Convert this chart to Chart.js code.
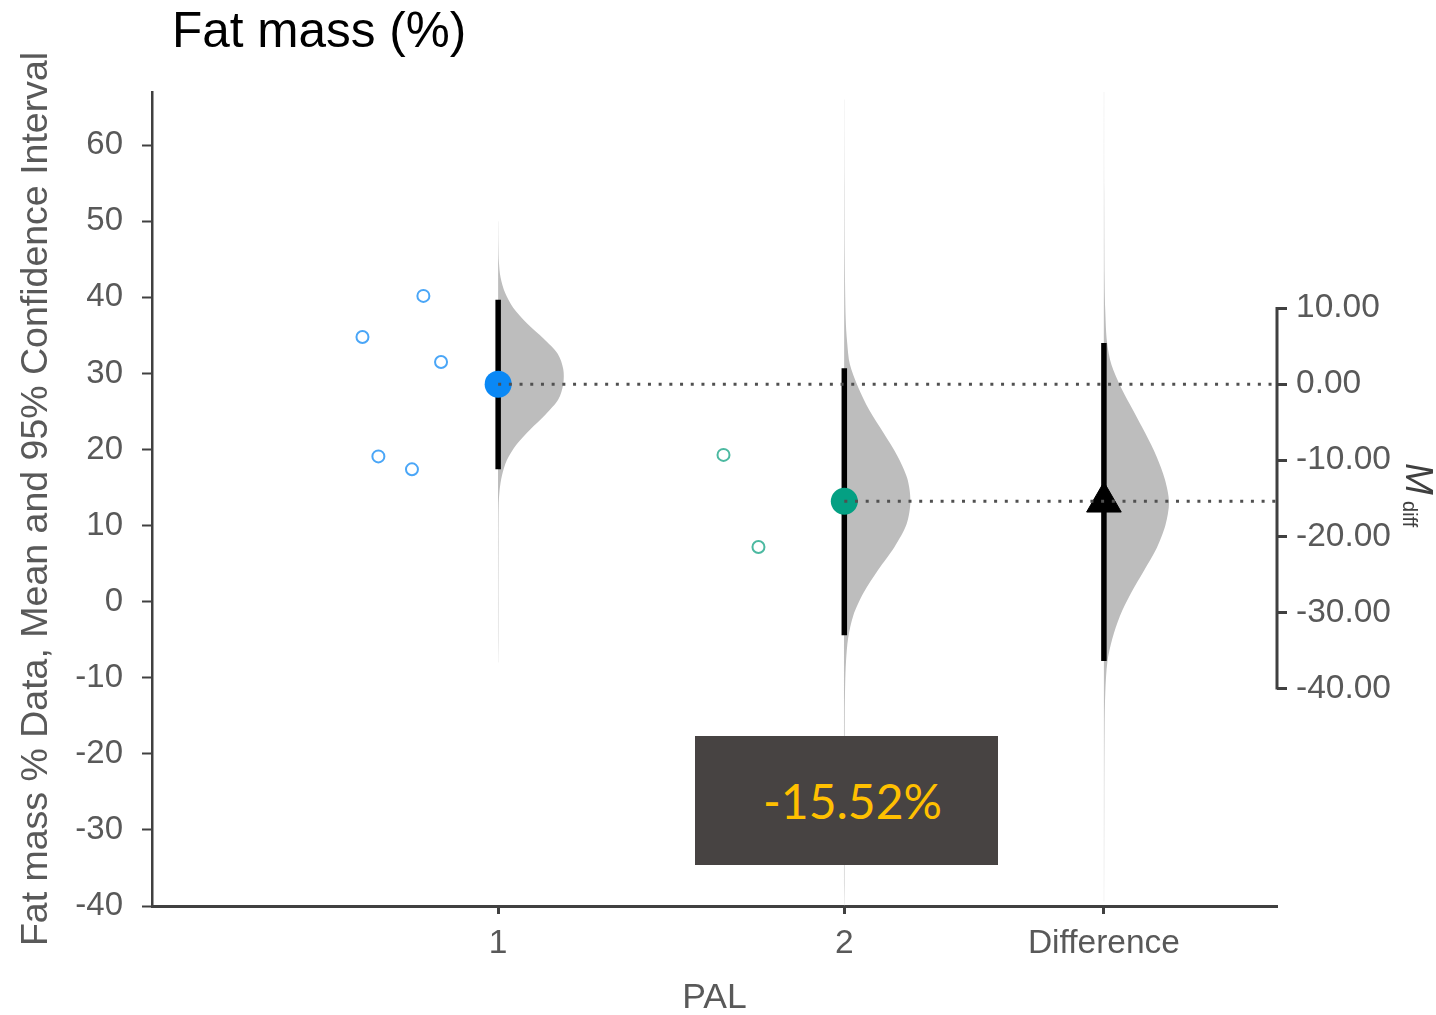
<!DOCTYPE html>
<html><head><meta charset="utf-8">
<script src="https://cdn.jsdelivr.net/npm/chart.js@4.4.1/dist/chart.umd.min.js"></script>
<style>
html,body{margin:0;padding:0;background:#fff;}
#wrap{position:relative;width:1436px;height:1015px;overflow:hidden;background:#fff;}
#c{position:absolute;left:0;top:0;}
#title{position:absolute;left:172px;top:5px;font-family:'Liberation Sans',Arial,sans-serif;font-size:49.5px;line-height:50px;color:#000;white-space:nowrap;}
#note{position:absolute;left:695px;top:736px;width:303px;height:129px;background:#474342;display:flex;align-items:center;justify-content:center;}
#note span{font-family:Lato,'Open Sans',sans-serif;font-size:48px;color:#ffc000;padding-left:12px;}
</style></head><body>
<div id="wrap"><canvas id="c" width="1436" height="1015"></canvas>
<div id="title">Fat mass (%)</div>
<div id="note"><span>-15.52%</span></div>
</div>
<script>
// ---- data ----
const categories = ['1', '2', 'Difference'];
const categoryPos = [1, 2, 2.75];
const xMin = 0, xMax = 3.25;
const yMin = -40, yMax = 67;
const leftTicks = [-40, -30, -20, -10, 0, 10, 20, 30, 40, 50, 60];
const rightTicks = [10, 0, -10, -20, -30, -40];

const group1X = [0.608, 0.784, 0.835, 0.654, 0.751];
const group1Y = [34.8, 40.2, 31.5, 19.1, 17.4];
const group2X = [1.651, 1.752];
const group2Y = [19.3, 7.2];

const groupMeans = [28.6, 13.2];
const groupCILow = [17.4, -4.4];
const groupCIHigh = [39.7, 30.7];
const diffMean = -15.5;
const diffCI = [-36.4, 5.4];

// half-violin outlines: value positions and half-widths (x units)
const violin1Y = [50, 46.6, 44.6, 42.6, 40.6, 38.6, 36.6, 34.6, 32.6, 30.6, 28.6, 26.6, 24.6, 22.6, 20.6, 18.6, 16.6, 14.6, 12.6, 8, 0, -8];
const violin1W = [0.0004, 0.001, 0.0023, 0.007, 0.020, 0.044, 0.083, 0.131, 0.172, 0.188, 0.188, 0.174, 0.137, 0.092, 0.052, 0.025, 0.011, 0.004, 0.0015, 0.001, 0.0007, 0.0004];
const violin2Y = [66, 55, 45, 37.2, 34.2, 31.2, 28.2, 25.2, 22.2, 19.2, 16.2, 13.2, 10.2, 7.2, 4.2, 1.2, -1.8, -4.8, -7.8, -10.8, -15, -25, -40];
const violin2W = [0.0004, 0.0008, 0.0015, 0.004, 0.008, 0.016, 0.040, 0.072, 0.113, 0.153, 0.182, 0.191, 0.180, 0.145, 0.098, 0.056, 0.026, 0.011, 0.005, 0.0025, 0.0012, 0.0008, 0.0005];
const violinDY = [40, 25, 13.5, 9.5, 5.5, 2.5, -0.5, -3.5, -6.5, -9.5, -12.5, -15.5, -18.5, -21.5, -24.5, -27.5, -30.5, -33.5, -36.5, -40.5, -45, -55, -68];
const violinDW = [0.0004, 0.0008, 0.002, 0.004, 0.009, 0.022, 0.050, 0.085, 0.120, 0.152, 0.176, 0.188, 0.178, 0.153, 0.116, 0.078, 0.046, 0.024, 0.010, 0.004, 0.002, 0.001, 0.0005];

// ---- helpers ----
function violinPoints(center, ys, ws) {
  const pts = ys.map((y, i) => ({x: center + ws[i], y: y}));
  pts.push({x: center, y: ys[ys.length - 1]});
  pts.push({x: center, y: ys[0]});
  return pts;
}
const ref = groupMeans[0];
const FONT = "'Liberation Sans', Arial, sans-serif";
const AXIS = '#404040';
const TXT = '#595959';
const VIOLIN = '#bdbdbd';

const violinBase = {type: 'line', fill: 'shape', backgroundColor: VIOLIN, borderWidth: 0, pointRadius: 0, tension: 0.3, order: 20};

const datasets = [
  Object.assign({}, violinBase, {data: violinPoints(categoryPos[0], violin1Y, violin1W), yAxisID: 'y'}),
  Object.assign({}, violinBase, {data: violinPoints(categoryPos[1], violin2Y, violin2W), yAxisID: 'y'}),
  Object.assign({}, violinBase, {data: violinPoints(categoryPos[2], violinDY, violinDW), yAxisID: 'y2'}),
  // CI bars
  {type: 'line', data: [{x: categoryPos[0], y: groupCILow[0]}, {x: categoryPos[0], y: groupCIHigh[0]}], borderColor: '#000', borderWidth: 5.5, borderCapStyle: 'butt', pointRadius: 0, fill: false, yAxisID: 'y', order: 15},
  {type: 'line', data: [{x: categoryPos[1], y: groupCILow[1]}, {x: categoryPos[1], y: groupCIHigh[1]}], borderColor: '#000', borderWidth: 5.5, borderCapStyle: 'butt', pointRadius: 0, fill: false, yAxisID: 'y', order: 15},
  {type: 'line', data: [{x: categoryPos[2], y: diffCI[0]}, {x: categoryPos[2], y: diffCI[1]}], borderColor: '#000', borderWidth: 5.5, borderCapStyle: 'butt', pointRadius: 0, fill: false, yAxisID: 'y2', order: 15},
  // means
  {type: 'line', showLine: false, data: [{x: categoryPos[0], y: groupMeans[0]}], pointRadius: 13.5, pointBackgroundColor: '#0a88f5', pointBorderWidth: 0, yAxisID: 'y', order: 10},
  {type: 'line', showLine: false, data: [{x: categoryPos[1], y: groupMeans[1]}], pointRadius: 13.5, pointBackgroundColor: '#04a083', pointBorderWidth: 0, yAxisID: 'y', order: 10},
  {type: 'line', showLine: false, data: [{x: categoryPos[2], y: diffMean}], pointStyle: 'triangle', pointRadius: 20, pointBackgroundColor: '#000', pointBorderColor: '#000', pointBorderWidth: 1, yAxisID: 'y2', order: 10},
  // dotted reference lines
  {type: 'line', data: [{x: categoryPos[0], y: groupMeans[0]}, {x: xMax, y: groupMeans[0]}], borderColor: '#505050', borderWidth: 3, borderDash: [3, 7.7], borderCapStyle: 'butt', pointRadius: 0, fill: false, yAxisID: 'y', order: 5},
  {type: 'line', data: [{x: categoryPos[1], y: groupMeans[1]}, {x: xMax, y: groupMeans[1]}], borderColor: '#505050', borderWidth: 3, borderDash: [3, 7.7], borderCapStyle: 'butt', pointRadius: 0, fill: false, yAxisID: 'y', order: 5},
  // raw data
  {type: 'line', showLine: false, data: group1X.map((x, i) => ({x: x, y: group1Y[i]})), pointRadius: 6, pointBackgroundColor: '#fff', pointBorderColor: '#4aa6f7', pointBorderWidth: 2, yAxisID: 'y', order: 1},
  {type: 'line', showLine: false, data: group2X.map((x, i) => ({x: x, y: group2Y[i]})), pointRadius: 6, pointBackgroundColor: '#fff', pointBorderColor: '#4cb9a1', pointBorderWidth: 2, yAxisID: 'y', order: 1}
];

const rightAxisLine = {
  id: 'rightAxisLine',
  afterDatasetsDraw(chart) {
    const s = chart.scales.y2;
    const ctx = chart.ctx;
    const x = chart.chartArea.right;
    ctx.save();
    ctx.strokeStyle = AXIS;
    ctx.lineWidth = 3;
    ctx.beginPath();
    ctx.moveTo(x, s.getPixelForValue(rightTicks[0]) - 1);
    ctx.lineTo(x, s.getPixelForValue(rightTicks[rightTicks.length - 1]) + 1);
    ctx.stroke();
    // M_diff label
    const ymid = s.getPixelForValue(diffMean);
    ctx.translate(1406, ymid - 39);
    ctx.rotate(Math.PI / 2);
    ctx.fillStyle = AXIS;
    ctx.textBaseline = 'alphabetic';
    ctx.textAlign = 'left';
    ctx.font = "italic 38px " + FONT;
    ctx.fillText('M', 0, 0);
    ctx.font = "20px " + FONT;
    ctx.fillText('diff', 38, 3);
    ctx.restore();
  }
};

new Chart(document.getElementById('c'), {
  type: 'line',
  data: {datasets: datasets},
  options: {
    responsive: false,
    animation: false,
    devicePixelRatio: 1,
    layout: {padding: {top: 92, left: 0, right: 0, bottom: 0}},
    plugins: {legend: {display: false}, tooltip: {enabled: false}, title: {display: false}},
    scales: {
      x: {
        type: 'linear', min: xMin, max: xMax, position: 'bottom',
        afterBuildTicks(scale) { scale.ticks = categoryPos.map(v => ({value: v})); },
        afterFit(scale) { scale.height = 109; },
        ticks: {autoSkip: false, maxRotation: 0, padding: 10, color: TXT, font: {family: FONT, size: 33.5},
          callback: (v) => { const i = categoryPos.indexOf(v); return i >= 0 ? categories[i] : ''; }},
        grid: {drawOnChartArea: false, drawTicks: true, tickLength: 8, tickColor: AXIS, tickWidth: 3},
        border: {display: true, color: AXIS, width: 3},
        title: {display: true, text: 'PAL', color: TXT, font: {family: FONT, size: 35.5, lineHeight: 1}, padding: {top: 0, bottom: -1}}
      },
      y: {
        type: 'linear', min: yMin, max: yMax, position: 'left',
        afterBuildTicks(scale) { scale.ticks = leftTicks.map(v => ({value: v})); },
        afterFit(scale) { scale.width = 152; },
        ticks: {autoSkip: false, padding: 19, color: TXT, font: {family: FONT, size: 33}, callback: (v) => String(v)},
        grid: {drawOnChartArea: false, drawTicks: true, tickLength: 10, tickColor: AXIS, tickWidth: 2},
        border: {display: true, color: AXIS, width: 2.5},
        title: {display: true, text: 'Fat mass % Data, Mean and 95% Confidence Interval', color: TXT, font: {family: FONT, size: 37.5, lineHeight: 1}, padding: {top: 18, bottom: 0}}
      },
      y2: {
        type: 'linear', min: yMin - ref, max: yMax - ref, position: 'right',
        afterBuildTicks(scale) { scale.ticks = rightTicks.map(v => ({value: v})); },
        afterFit(scale) { scale.width = 159; },
        ticks: {autoSkip: false, padding: 9, color: TXT, font: {family: FONT, size: 33.5}, callback: (v) => Number(v).toFixed(2)},
        grid: {drawOnChartArea: false, drawTicks: true, tickLength: 10, tickColor: AXIS, tickWidth: 3},
        border: {display: false}
      }
    }
  },
  plugins: [rightAxisLine]
});
</script>
</body></html>
